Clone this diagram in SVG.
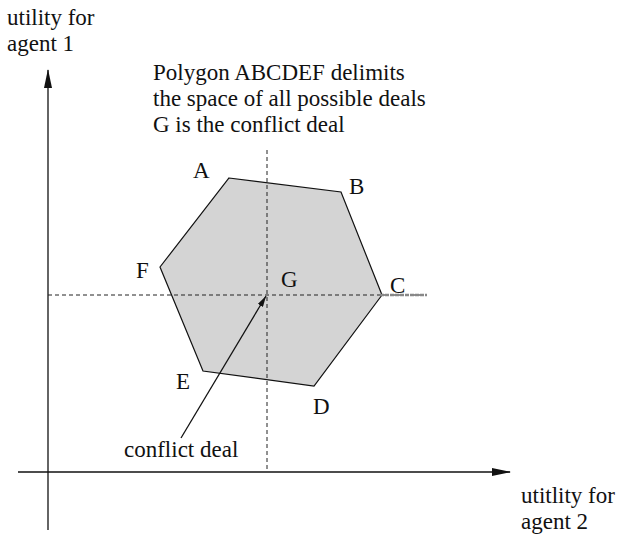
<svg xmlns="http://www.w3.org/2000/svg" width="618" height="538" viewBox="0 0 618 538">
<style>
text{font-family:"Liberation Serif","Times New Roman",serif;font-size:23px;fill:#111}
.ax{stroke:#111;stroke-width:1.3;fill:none}
.dash{stroke:#222;stroke-width:1;stroke-dasharray:4,3;fill:none}
</style>
<defs>
<marker id="ah" markerWidth="19" markerHeight="8" refX="18" refY="4" orient="auto" markerUnits="userSpaceOnUse"><path d="M0,0 L19,4 L0,8 Z" fill="#111"/></marker>
<marker id="ah2" markerWidth="11" markerHeight="6" refX="11" refY="3" orient="auto" markerUnits="userSpaceOnUse"><path d="M0,0 L11,3 L0,6 Z" fill="#111"/></marker>
</defs>
<g id="polygon">
<polygon points="229,178 341,192 382,295 314,386 203,371 160,267" fill="#d4d4d4" stroke="#111" stroke-width="1.2"/>
</g>
<g id="connectors">
<line class="ax" x1="48" y1="530" x2="48" y2="70" marker-end="url(#ah)"/>
<line class="ax" x1="18" y1="472" x2="510" y2="472" marker-end="url(#ah)"/>
<line class="dash" x1="267" y1="150" x2="267" y2="472"/>
<line class="dash" x1="48" y1="295" x2="427" y2="295"/>
<line x1="380" y1="295" x2="427" y2="295" stroke="#888" stroke-width="2.5" stroke-dasharray="4,1"/>
<line class="ax" x1="181" y1="438" x2="266" y2="296" marker-end="url(#ah2)"/>
</g>
<g id="labels">
<text x="7" y="25">utility for</text>
<text x="7" y="51">agent 1</text>
<text x="153" y="80">Polygon ABCDEF delimits</text>
<text x="153" y="106">the space of all possible deals</text>
<text x="153" y="132">G is the conflict deal</text>
<text x="193" y="178">A</text>
<text x="349" y="194">B</text>
<text x="390" y="293">C</text>
<text x="313" y="414">D</text>
<text x="176" y="389">E</text>
<text x="136" y="278">F</text>
<text x="281" y="287">G</text>
<text x="124" y="457">conflict deal</text>
<text x="521" y="503">utitlity for</text>
<text x="521" y="529">agent 2</text>
</g>
</svg>
